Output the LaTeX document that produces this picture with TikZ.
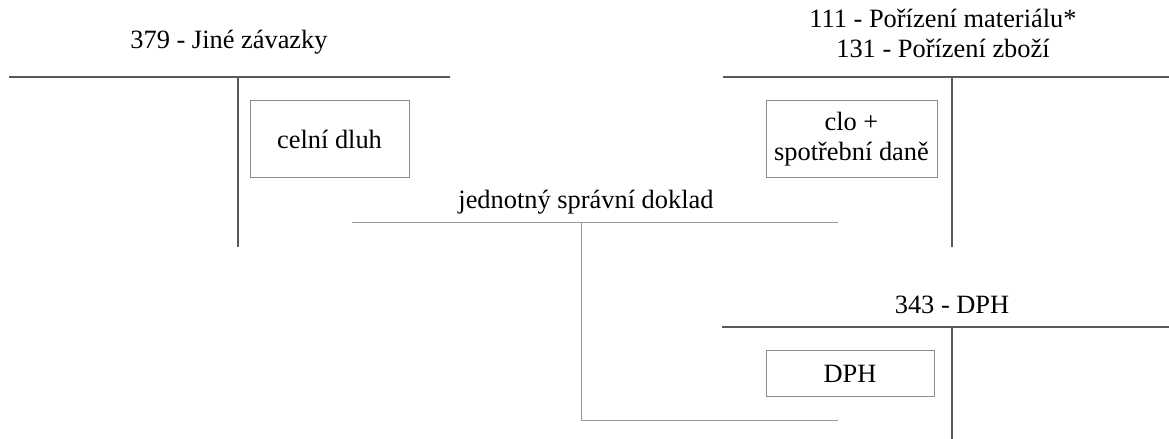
\documentclass[tikz,border=0pt]{standalone}
\usepackage{fontspec}
\setmainfont{Liberation Serif}
\begin{document}
\begin{tikzpicture}[x=0.5pt,y=0.5pt,every node/.style={font=\rmfamily\fontsize{13.2}{15}\selectfont},
	tline/.style={color=black!65,line width=1pt},
	jline/.style={color=black!40,line width=0.5pt},
	item/.style={draw=black!45,line width=0.5pt,align=center,inner sep=0pt}]
		\useasboundingbox (0,0) rectangle (1169,439);
		% ucet 379
		\draw[tline] (9,362) -- (450,362);
		\draw[tline] (238,362) -- (238,192);
		\node (t379) at (229,397) {379 - Jiné závazky};
		\node[item,minimum width=79.5pt,minimum height=38.5pt] (dluh) at (329.5,299.5) {celní dluh};
		% ucet 111 / 131
		\draw[tline] (723,362) -- (1169,362);
		\draw[tline] (952,362) -- (952,192);
		\node[align=center] (t111) at (943,406) {111 - Pořízení materiálu*\\131 - Pořízení zboží};
		\node[item,minimum width=85.5pt,minimum height=38.5pt] (clo) at (851.5,299.5) {clo +\\spotřební daně};
		% jednotny spravni doklad
		\draw[jline] (352,216) -- (838,216);
		\draw[jline] (581,216) -- (581,18) -- (838,18);
		\node (jsd) at (586,237) {jednotný správní doklad};
		% ucet 343
		\draw[tline] (722,112) -- (1169,112);
		\draw[tline] (952,112) -- (952,0);
		\node (t343) at (952,134) {343 - DPH};
		\node[item,minimum width=84pt,minimum height=23pt] (dph) at (850,65) {DPH};
\end{tikzpicture}
\end{document}
